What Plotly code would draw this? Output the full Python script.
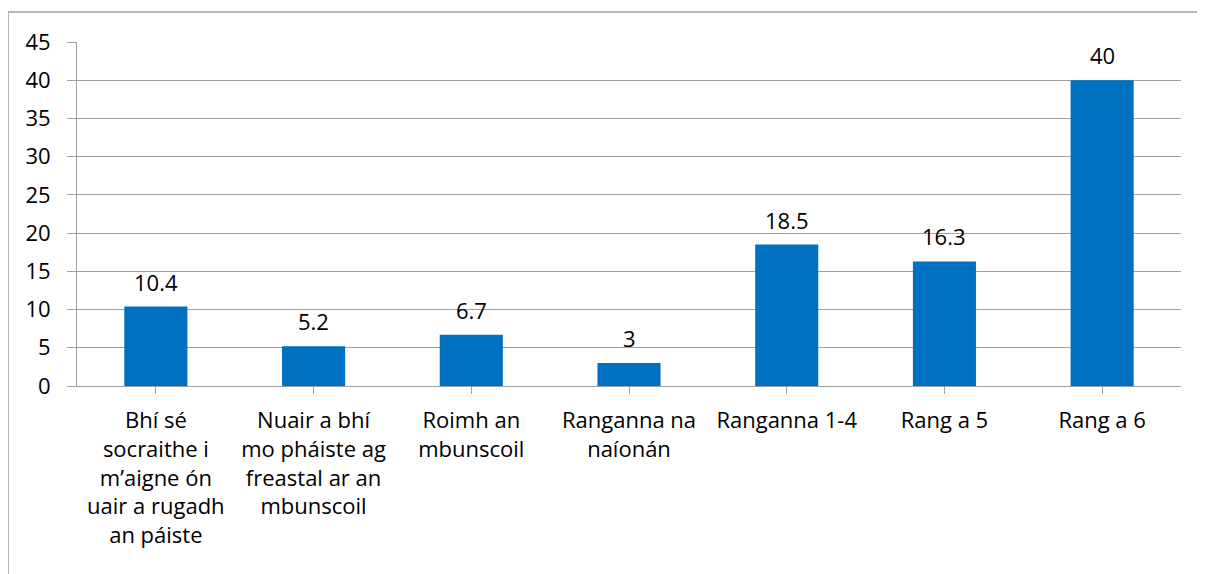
import plotly.graph_objects as go

# categories (wrapped as in the original Excel chart)
categories = [
    "Bhí sé<br>socraithe i<br>m’aigne ón<br>uair a rugadh<br>an páiste",
    "Nuair a bhí<br>mo pháiste ag<br>freastal ar an<br>mbunscoil",
    "Roimh an<br>mbunscoil",
    "Ranganna na<br>naíonán",
    "Ranganna 1-4",
    "Rang a 5",
    "Rang a 6",
]
values = [10.4, 5.2, 6.7, 3, 18.5, 16.3, 40]
value_labels = ["10.4", "5.2", "6.7", "3", "18.5", "16.3", "40"]
y_ticks = [0, 5, 10, 15, 20, 25, 30, 35, 40, 45]

# page body has an 8px margin, so the figure is a bit smaller than the window
W, H = 1197, 566
ml, mr, mt, mb = 69, 24, 34, 188
pw, ph = W - ml - mr, H - mt - mb

font_name = "Open Sans"
fsize = 22
grid = "#A0A0A0"

xs = list(range(len(categories)))

fig = go.Figure()
fig.add_trace(go.Bar(
    x=xs,
    y=values,
    marker=dict(color="#0070C0", line=dict(width=0)),
    width=0.4,
))

# data labels above the bars
for x, v, lab in zip(xs, values, value_labels):
    fig.add_annotation(
        x=x, y=v, text=lab, showarrow=False,
        yanchor="bottom", yshift=8,
        font=dict(family=font_name, size=fsize, color="#000000"),
    )

fig.update_layout(
    width=W, height=H,
    margin=dict(l=ml, r=mr, t=mt, b=mb),
    paper_bgcolor="white",
    plot_bgcolor="white",
    showlegend=False,
    font=dict(family=font_name, size=fsize, color="#000000"),
)

fig.update_xaxes(
    tickmode="array",
    tickvals=xs,
    ticktext=categories,
    range=[-0.5, len(categories) - 0.5],
    showline=True, linecolor=grid, linewidth=1,
    ticks="outside", tickson="boundaries", ticklen=7, tickcolor=grid,
    showgrid=False,
    ticklabelstandoff=8,
    tickfont=dict(family=font_name, size=fsize),
)
fig.update_yaxes(
    range=[0, 45],
    tickvals=y_ticks,
    showline=True, linecolor=grid, linewidth=1,
    ticks="outside", ticklen=9, tickcolor=grid,
    showgrid=True, gridcolor=grid, gridwidth=1,
    zeroline=False,
    ticklabelstandoff=12,
    tickfont=dict(family=font_name, size=fsize),
)

# chart frame: only the top and left edges fall inside the picture
x_left = (0 - ml) / pw
x_right = (W + 10 - ml) / pw
y_top = 1 + (mt - 4) / ph
y_bot = -(H + 10 - (mt + ph)) / ph
fig.add_shape(
    type="path", xref="paper", yref="paper",
    path=f"M {x_right} {y_top} L {x_left} {y_top} L {x_left} {y_bot}",
    line=dict(color="#A0A0A0", width=1.5),
)

fig.write_html("out.html")
